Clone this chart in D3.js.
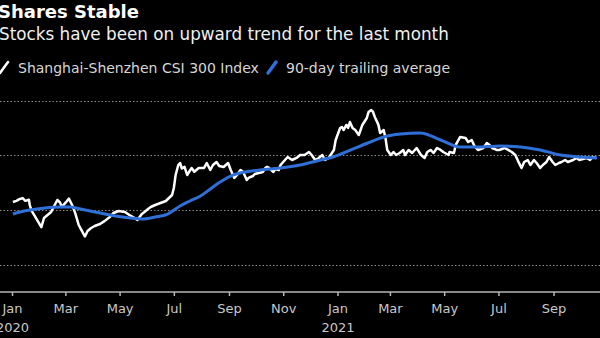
<!DOCTYPE html>
<html>
<head>
<meta charset="utf-8">
<script src="https://cdn.jsdelivr.net/npm/d3@7"></script>
<style>
  html, body { margin: 0; padding: 0; background: #000; }
  svg { display: block; }
</style>
</head>
<body>
<svg id="chart" width="600" height="338"></svg>
<script>
// CSI 300 closes, sampled
const indexDates = [
  "2020-01-02","2020-01-06","2020-01-09","2020-01-13","2020-01-16","2020-01-20","2020-01-21","2020-01-23",
  "2020-02-03","2020-02-06","2020-02-10","2020-02-14","2020-02-18","2020-02-21","2020-02-24","2020-02-26",
  "2020-03-02","2020-03-05","2020-03-09","2020-03-12","2020-03-16","2020-03-19","2020-03-23","2020-03-26",
  "2020-03-30","2020-04-03","2020-04-09","2020-04-14","2020-04-20","2020-04-24","2020-04-30","2020-05-07",
  "2020-05-12","2020-05-18","2020-05-21","2020-05-26","2020-05-29","2020-06-02","2020-06-05","2020-06-10",
  "2020-06-16","2020-06-22","2020-06-29","2020-07-01","2020-07-03","2020-07-06","2020-07-08","2020-07-10",
  "2020-07-13","2020-07-16","2020-07-21","2020-07-24","2020-07-29","2020-08-04","2020-08-07","2020-08-11",
  "2020-08-14","2020-08-18","2020-08-21","2020-08-26","2020-08-31","2020-09-03","2020-09-07","2020-09-10",
  "2020-09-14","2020-09-17","2020-09-21","2020-09-23","2020-09-28","2020-09-30","2020-10-09","2020-10-12",
  "2020-10-14","2020-10-16","2020-10-21","2020-10-23","2020-10-27","2020-10-29","2020-11-03","2020-11-06",
  "2020-11-11","2020-11-16","2020-11-20","2020-11-25","2020-11-30","2020-12-03","2020-12-07","2020-12-11",
  "2020-12-15","2020-12-18","2020-12-22","2020-12-28","2020-12-30","2021-01-04","2021-01-06","2021-01-08",
  "2021-01-11","2021-01-13","2021-01-15","2021-01-18","2021-01-21","2021-01-25","2021-01-27","2021-01-29",
  "2021-02-03","2021-02-05","2021-02-08","2021-02-10","2021-02-12","2021-02-16","2021-02-18","2021-02-22",
  "2021-02-24","2021-02-26","2021-03-02","2021-03-05","2021-03-08","2021-03-12","2021-03-16","2021-03-18",
  "2021-03-22","2021-03-26","2021-03-31","2021-04-05","2021-04-09","2021-04-12","2021-04-16","2021-04-19",
  "2021-04-23","2021-04-27","2021-04-30","2021-05-06","2021-05-07","2021-05-12","2021-05-14","2021-05-19",
  "2021-05-25","2021-05-28","2021-06-01","2021-06-04","2021-06-08","2021-06-14","2021-06-18","2021-06-21",
  "2021-06-24","2021-06-29","2021-07-02","2021-07-08","2021-07-12","2021-07-16","2021-07-20","2021-07-23",
  "2021-07-27","2021-07-30","2021-08-03","2021-08-06","2021-08-10","2021-08-13","2021-08-17","2021-08-20",
  "2021-08-24","2021-08-27","2021-08-31","2021-09-03","2021-09-07","2021-09-10","2021-09-14","2021-09-17",
  "2021-09-23","2021-09-27","2021-09-30","2021-10-08","2021-10-12","2021-10-15","2021-10-19"
];
const indexValues = [
  4150,4170,4200,4220,4170,4190,4094,3990,
  3690,3857,3912,3967,4094,4186,4140,4060,
  4150,4210,4080,3950,3730,3640,3520,3620,
  3675,3711,3748,3800,3875,3948,3985,3967,
  3912,3857,3821,3930,3967,4021,4058,4094,
  4131,4167,4277,4404,4642,4824,4860,4760,
  4790,4642,4770,4700,4770,4770,4860,4733,
  4824,4879,4806,4788,4860,4733,4587,4642,
  4733,4697,4550,4587,4623,4660,4697,4770,
  4788,4770,4697,4751,4733,4824,4915,4970,
  4915,4952,5006,5006,5061,5006,4915,4952,
  5006,4915,4952,5098,5280,5499,5517,5462,
  5554,5499,5608,5499,5462,5371,5462,5554,
  5681,5791,5827,5791,5700,5560,5408,5462,
  5316,5098,5006,5061,5006,5043,5098,5006,
  5098,5043,5134,5006,4952,5061,5098,5043,
  5134,5098,5061,5006,5061,5043,5189,5335,
  5316,5243,5280,5170,5098,5134,5225,5189,
  5134,5098,5098,5134,5098,5061,5006,4900,
  4770,4879,4915,4824,4915,4860,4770,4824,
  4879,4970,4879,4824,4860,4879,4915,4879,
  4915,4952,4915,4952,4915,4970,4952
];

// 90-day trailing average
const avgDates = [
  "2020-01-02","2020-01-10","2020-01-21","2020-02-07","2020-02-24","2020-03-06","2020-03-18","2020-03-29",
  "2020-04-09","2020-04-26","2020-05-13","2020-05-26","2020-06-10","2020-06-24","2020-07-08","2020-07-19",
  "2020-07-31","2020-08-11","2020-08-22","2020-09-06","2020-09-19","2020-10-06","2020-10-29","2020-11-20",
  "2020-12-13","2020-12-27","2021-01-16","2021-02-04","2021-02-22","2021-03-13","2021-04-04","2021-04-27",
  "2021-05-19","2021-06-11","2021-07-03","2021-07-26","2021-08-17","2021-09-09","2021-10-02","2021-10-20"
];
const avgValues = [
  3930,3967,4003,4040,4058,4058,4021,3985,
  3948,3894,3857,3839,3875,3930,4076,4167,
  4259,4386,4514,4642,4697,4733,4769,4824,
  4915,4970,5098,5225,5335,5389,5408,5280,
  5152,5152,5170,5152,5098,5006,4970,4952
];

const gridValues = [3000, 4000, 5000, 6000];
const tickDates = [
  "2020-01-01","2020-03-01","2020-05-01","2020-07-01","2020-09-01","2020-11-01",
  "2021-01-01","2021-03-01","2021-05-01","2021-07-01","2021-09-01"
];
const tickLabels = ["Jan","Mar","May","Jul","Sep","Nov","Jan","Mar","May","Jul","Sep"];
const yearLabels = {"2020-01-01": "2020", "2021-01-01": "2021"};

const seriesNames = ["Shanghai-Shenzhen CSI 300 Index", "90-day trailing average"];
const seriesColors = ["#ffffff", "#2f6fd8"];

const width = 600, height = 338;
const parse = d3.timeParse("%Y-%m-%d");
const font = "DejaVu Sans, Verdana, sans-serif";

const svg = d3.select("#chart");
svg.append("rect").attr("width", width).attr("height", height).attr("fill", "#000");

const x = d3.scaleTime()
  .domain([parse("2020-01-01"), parse("2021-10-21")])
  .range([12, 598]);
const y = d3.scaleLinear()
  .domain([3000, 6000])
  .range([265, 100.5]);

// dotted horizontal grid
svg.append("g")
  .selectAll("line")
  .data(gridValues)
  .join("line")
  .attr("x1", 0).attr("x2", width)
  .attr("y1", d => Math.round(y(d)) + 0.5)
  .attr("y2", d => Math.round(y(d)) + 0.5)
  .attr("stroke", "#8a8a8a")
  .attr("stroke-width", 1)
  .attr("stroke-dasharray", "1.5,2");

// x axis
const xAxis = d3.axisBottom(x)
  .tickValues(tickDates.map(parse))
  .tickSize(4)
  .tickSizeOuter(0)
  .tickFormat((d, i) => tickLabels[i]);

const gx = svg.append("g")
  .attr("transform", "translate(0,292)")
  .call(xAxis);
gx.select(".domain").remove();
gx.insert("line", ":first-child")
  .attr("x1", 0).attr("x2", width)
  .attr("stroke", "#b5b5b5").attr("stroke-width", 1.5);
gx.selectAll(".tick line").attr("stroke", "#b5b5b5").attr("stroke-width", 1.5);
gx.selectAll(".tick text")
  .attr("y", 12)
  .attr("fill", "#c8c8c8")
  .style("font-family", font)
  .style("font-size", "13px");
gx.selectAll(".tick")
  .filter(d => yearLabels[d3.timeFormat("%Y-%m-%d")(d)])
  .append("text")
  .attr("y", 31)
  .attr("dy", "0.71em")
  .attr("fill", "#c8c8c8")
  .attr("text-anchor", "middle")
  .style("font-family", font)
  .style("font-size", "13px")
  .text(d => yearLabels[d3.timeFormat("%Y-%m-%d")(d)]);

// lines
const line = d3.line()
  .x(d => x(d[0]))
  .y(d => y(d[1]));

const indexData = indexDates.map((d, i) => [parse(d), indexValues[i]]);
const avgData = avgDates.map((d, i) => [parse(d), avgValues[i]]);

svg.append("path")
  .datum(indexData)
  .attr("d", line)
  .attr("fill", "none")
  .attr("stroke", seriesColors[0])
  .attr("stroke-width", 2.5)
  .attr("stroke-linejoin", "round");

svg.append("path")
  .datum(avgData)
  .attr("d", line.curve(d3.curveMonotoneX))
  .attr("fill", "none")
  .attr("stroke", seriesColors[1])
  .attr("stroke-width", 3)
  .attr("stroke-linejoin", "round");

// title, subtitle
svg.append("text")
  .attr("x", -2).attr("y", 18)
  .attr("fill", "#fff")
  .style("font-family", font)
  .style("font-weight", "bold")
  .style("font-size", "18px")
  .text("Shares Stable");

svg.append("text")
  .attr("x", -1).attr("y", 40)
  .attr("fill", "#f0f0f0")
  .style("font-family", font)
  .style("font-size", "16.8px")
  .text("Stocks have been on upward trend for the last month");

// legend
const legendX = [0, 268];
const legend = svg.append("g");
seriesNames.forEach((name, i) => {
  const lx = legendX[i];
  legend.append("line")
    .attr("x1", lx).attr("y1", 73)
    .attr("x2", lx + 8).attr("y2", 62)
    .attr("stroke", seriesColors[i])
    .attr("stroke-width", i ? 3.5 : 2.5)
    .attr("stroke-linecap", "round");
  legend.append("text")
    .attr("x", lx + 18).attr("y", 73)
    .attr("fill", "#d6d6d6")
    .style("font-family", font)
    .style("font-size", "14px")
    .text(name);
});
</script>
</body>
</html>
